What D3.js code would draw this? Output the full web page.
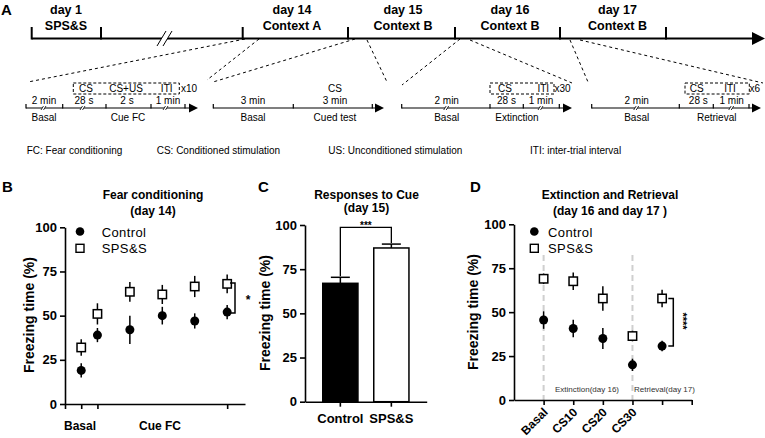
<!DOCTYPE html>
<html>
<head>
<meta charset="utf-8">
<script src="https://cdn.jsdelivr.net/npm/d3@7"></script>
<style>
  body { margin: 0; background: #fff; }
  svg { font-family: "Liberation Sans", Arial, sans-serif; display: block; }
  .axis path, .axis line { stroke: #000; stroke-width: 1.6; }
  .axis text { font-size: 13px; font-weight: bold; fill: #000; }
</style>
</head>
<body>
<svg width="765" height="438"></svg>
<script>
// ---- data ----
// A: protocol schematic
var dayTop = ["day 1", "day 14", "day 15", "day 16", "day 17"];
var dayBottom = ["SPS&S", "Context A", "Context B", "Context B", "Context B"];
var notes = ["FC: Fear conditioning", "CS: Conditioned stimulation", "US: Unconditioned stimulation", "ITI: inter-trial interval"];

// B: fear conditioning (day 14)
var fcX = [1, 2, 4, 6, 8, 10];
var fcTicks = [0, 1, 2, 10];
var fcControl = [19, 39, 42, 50, 47, 52];
var fcControlErr = [4, 4, 8, 5, 4.3, 4];
var fcSps = [32, 51, 63.5, 62, 66.5, 68];
var fcSpsErr = [4.7, 6, 5.6, 5.4, 6, 5.3];

// C: responses to cue (day 15)
var cueGroups = ["Control", "SPS&S"];
var cueMeans = [67, 87];
var cueErr = [3.4, 2.2];

// D: extinction and retrieval
var extX = [1, 2, 3, 4, 5];
var extLabels = ["Basal", "CS10", "CS20", "CS30"];
var extControl = [45.5, 40.7, 35, 20, 30.7];
var extControlErr = [5, 5, 6, 3.5, 3];
var extSps = [69, 67.6, 57.8, 36.4, 57.8];
var extSpsErr = [3, 5, 7, 3, 5];

var yTicks = [0, 25, 50, 75, 100];

var svg = d3.select("svg");

function txt(x, y, s, size, weight, anchor) {
  return svg.append("text").attr("x", x).attr("y", y).text(s)
    .attr("font-size", size).attr("font-weight", weight || "normal")
    .attr("text-anchor", anchor || "start").attr("fill", "#000");
}
function line(x1, y1, x2, y2, w, dash) {
  var l = svg.append("line").attr("x1", x1).attr("y1", y1).attr("x2", x2).attr("y2", y2)
    .attr("stroke", "#000").attr("stroke-width", w || 1);
  if (dash) l.attr("stroke-dasharray", dash);
  return l;
}
function arrow(x, y, len, half) {
  svg.append("path").attr("d", "M" + (x - len) + "," + (y - half) + "L" + x + "," + y + "L" + (x - len) + "," + (y + half) + "Z").attr("fill", "#000");
}

// ---- panel A ----
txt(1, 15, "A", 15, "bold");
var mainY = 38.5;
var mainTicks = [31.7, 101, 242.7, 348, 455, 560, 666];
var dayX = [66, 292, 403, 510, 617.5];
line(31.7, mainY, 753, mainY, 2);
arrow(765, mainY, 13, 6.5);
mainTicks.forEach(function (t) { line(t, mainY + 1, t, 27, 2); });
dayTop.forEach(function (d, i) {
  txt(dayX[i], 14, d, 12.5, "bold", "middle");
  txt(dayX[i], 30, dayBottom[i], 12.5, "bold", "middle");
});
// break mark
svg.append("path").attr("d", "M157,46 L166,31 L172,31 L163,46 Z").attr("fill", "#fff");
line(157, 46, 166, 31, 1);
line(163, 46, 172, 31, 1);

// connectors
[[245, 39, 28, 82], [259, 39, 207, 80], [355, 39, 213, 82], [367, 40, 387, 82],
 [460, 39, 402, 85], [470, 40, 572, 83], [570, 40, 588, 82], [580, 40, 763, 83]]
  .forEach(function (c) { line(c[0], c[1], c[2], c[3], 1, "3,3"); });

var subY = 108;
var subs = [
  { x0: 26, end: 198, ticks: [26, 62.7, 106, 151, 185],
    top: [["2 min", 44], ["28 s", 84], ["2 s", 127], ["1 min", 168]],
    bottom: [["Basal", 44], ["Cue FC", 128]], breaks: [44, 83, 166],
    box: [73.3, 179.3], boxText: [["CS", 86], ["CS+US", 126], ["ITI", 166.7]], rep: ["x10", 181] },
  { x0: 213.3, end: 384, ticks: [213.3, 293.3, 372.3],
    top: [["3 min", 253], ["3 min", 335]], extra: [["CS", 335]],
    bottom: [["Basal", 253], ["Cued test", 335]], breaks: [] },
  { x0: 401.7, end: 572, ticks: [401.7, 490, 523.3, 559.3],
    top: [["2 min", 446.7], ["28 s", 506.5], ["1 min", 541]],
    bottom: [["Basal", 446.7], ["Extinction", 517]], breaks: [446.7, 541],
    box: [490, 554], boxText: [["CS", 505], ["ITI", 543.3]], rep: ["x30", 554.5] },
  { x0: 591.7, end: 761, ticks: [591.7, 679.3, 713.3, 749],
    top: [["2 min", 636.7], ["28 s", 698.3], ["1 min", 731.7]],
    bottom: [["Basal", 636.7], ["Retrieval", 716.7]], breaks: [636.7, 731.7],
    box: [685, 749.3], boxText: [["CS", 696.7], ["ITI", 730]], rep: ["x6", 749.5] }
];
subs.forEach(function (s) {
  line(s.x0, subY, s.end - 6, subY, 1.2);
  arrow(s.end, subY, 9, 4.5);
  s.ticks.forEach(function (t) { line(t, subY + 0.5, t, subY - 4, 1.2); });
  s.breaks.forEach(function (b) {
    svg.append("path").attr("d", "M" + (b - 3) + "," + (subY + 2) + "L" + (b - 0.5) + "," + (subY - 2) + "L" + (b + 2) + "," + (subY - 2) + "L" + (b - 0.5) + "," + (subY + 2) + "Z").attr("fill", "#fff");
    line(b - 3, subY + 2, b - 0.5, subY - 2, 0.8);
    line(b - 0.5, subY + 2, b + 2, subY - 2, 0.8);
  });
  s.top.forEach(function (t) { txt(t[1], 104, t[0], 10, "normal", "middle"); });
  s.bottom.forEach(function (t) { txt(t[1], 121, t[0], 10, "normal", "middle"); });
  if (s.extra) s.extra.forEach(function (t) { txt(t[1], 92, t[0], 10, "normal", "middle"); });
  if (s.box) {
    svg.append("rect").attr("x", s.box[0]).attr("y", 83).attr("width", s.box[1] - s.box[0]).attr("height", 11)
      .attr("fill", "none").attr("stroke", "#000").attr("stroke-width", 1).attr("stroke-dasharray", "3,2");
    s.boxText.forEach(function (t) { txt(t[1], 92, t[0], 10, "normal", "middle"); });
    txt(s.rep[1], 92, s.rep[0], 10, "normal", "start");
  }
});
var noteX = [26.7, 156.7, 328.3, 530];
notes.forEach(function (n, i) { txt(noteX[i], 154, n, 10, "normal"); });

// ---- shared helpers for plots ----
function yLabel(x, y) {
  svg.append("text").attr("transform", "translate(" + x + "," + y + ") rotate(-90)")
    .attr("text-anchor", "middle").attr("font-size", 14).attr("font-weight", "bold")
    .text("Freezing time (%)");
}
function title(x, a, b, y2) {
  txt(x, 199, a, 12, "bold", "middle");
  txt(x, y2 || 215, b, 12, "bold", "middle");
}
function legend(cx, tx) {
  svg.append("circle").attr("cx", cx).attr("cy", 231.5).attr("r", 4.3).attr("fill", "#000");
  txt(tx, 236.5, "Control", 13, "normal").attr("letter-spacing", 0.4);
  svg.append("rect").attr("x", cx - 4).attr("y", 244.3).attr("width", 8).attr("height", 8)
    .attr("fill", "#fff").attr("stroke", "#000").attr("stroke-width", 1.4);
  txt(tx, 253, "SPS&S", 13, "normal").attr("letter-spacing", 0.4);
}
function points(x, y, xs, ctl, ctlErr, sps, spsErr) {
  var g = svg.append("g");
  xs.forEach(function (v, i) {
    g.append("line").attr("x1", x(v)).attr("x2", x(v)).attr("y1", y(sps[i] - spsErr[i])).attr("y2", y(sps[i] + spsErr[i]))
      .attr("stroke", "#000").attr("stroke-width", 1.5);
    g.append("line").attr("x1", x(v)).attr("x2", x(v)).attr("y1", y(ctl[i] - ctlErr[i])).attr("y2", y(ctl[i] + ctlErr[i]))
      .attr("stroke", "#000").attr("stroke-width", 1.5);
  });
  g.selectAll(".c").data(xs).enter().append("circle")
    .attr("cx", function (d) { return x(d); })
    .attr("cy", function (d, i) { return y(ctl[i]); })
    .attr("r", 4.5).attr("fill", "#000");
  g.selectAll(".s").data(xs).enter().append("rect")
    .attr("x", function (d) { return x(d) - 4.2; })
    .attr("y", function (d, i) { return y(sps[i]) - 4.2; })
    .attr("width", 8.4).attr("height", 8.4)
    .attr("fill", "#fff").attr("stroke", "#000").attr("stroke-width", 1.5);
}

// ---- panel B ----
txt(2, 192, "B", 15, "bold");
title(153, "Fear conditioning", "(day 14)");
var xB = d3.scaleLinear().domain([0, 11.1]).range([65, 245]);
var yB = d3.scaleLinear().domain([0, 100]).range([404, 227.3]);
svg.append("g").attr("class", "axis").attr("transform", "translate(65,0)")
  .call(d3.axisLeft(yB).tickValues(yTicks).tickSize(5).tickSizeOuter(0).tickPadding(3));
svg.append("g").attr("class", "axis").attr("transform", "translate(0,404)")
  .call(d3.axisBottom(xB).tickValues(fcTicks).tickSize(5).tickSizeOuter(0).tickFormat(""));
txt(80, 430, "Basal", 12, "bold", "middle");
txt(160, 430, "Cue FC", 12, "bold", "middle");
yLabel(34, 315);
legend(80, 101.7);
points(xB, yB, fcX, fcControl, fcControlErr, fcSps, fcSpsErr);
// significance bracket
var bx = 235;
svg.append("path").attr("d", "M230," + yB(fcSps[5] + 0.5) + "H" + bx + "V" + yB(fcControl[5] - 0.5) + "H230")
  .attr("fill", "none").attr("stroke", "#000").attr("stroke-width", 1.5);
txt(248, 304, "*", 12, "bold", "middle");

// ---- panel C ----
txt(258, 192, "C", 15, "bold");
title(366.5, "Responses to Cue", "(day 15)", 211.5);
var xC = d3.scaleBand().domain(cueGroups).range([305, 426.7]).paddingInner(0.31).paddingOuter(0.348);
var yC = d3.scaleLinear().domain([0, 100]).range([401.7, 225]);
cueGroups.forEach(function (g, i) {
  var cx = xC(g) + xC.bandwidth() / 2;
  svg.append("line").attr("x1", cx).attr("x2", cx).attr("y1", yC(cueMeans[i])).attr("y2", yC(cueMeans[i] + cueErr[i]))
    .attr("stroke", "#000").attr("stroke-width", 1.5);
  svg.append("line").attr("x1", cx - 9.5).attr("x2", cx + 9.5).attr("y1", yC(cueMeans[i] + cueErr[i])).attr("y2", yC(cueMeans[i] + cueErr[i]))
    .attr("stroke", "#000").attr("stroke-width", 1.5);
});
svg.selectAll(".bar").data(cueMeans).enter().append("rect")
  .attr("x", function (d, i) { return xC(cueGroups[i]); })
  .attr("y", function (d) { return yC(d); })
  .attr("width", xC.bandwidth())
  .attr("height", function (d) { return yC(0) - yC(d); })
  .attr("fill", function (d, i) { return i === 0 ? "#000" : "#fff"; })
  .attr("stroke", "#000").attr("stroke-width", 1.5);
svg.append("g").attr("class", "axis").attr("transform", "translate(305,0)")
  .call(d3.axisLeft(yC).tickValues(yTicks).tickSize(5).tickSizeOuter(0).tickPadding(3));
svg.append("g").attr("class", "axis cat").attr("transform", "translate(0,401.7)")
  .call(d3.axisBottom(xC).tickSize(5).tickSizeOuter(0).tickPadding(7));
svg.selectAll(".cat text").attr("font-size", 12);
var c0 = xC(cueGroups[0]) + xC.bandwidth() / 2, c1 = xC(cueGroups[1]) + xC.bandwidth() / 2;
svg.append("path").attr("d", "M" + c0 + "," + (yC(cueMeans[0] + cueErr[0]) - 1) + "V" + yC(98.6) + "H" + c1 + "V" + (yC(cueMeans[1] + cueErr[1]) - 1))
  .attr("fill", "none").attr("stroke", "#000").attr("stroke-width", 1.3);
txt((c0 + c1) / 2, 228.5, "***", 10, "bold", "middle");
yLabel(270, 313);

// ---- panel D ----
txt(470, 192, "D", 15, "bold");
title(610, "Extinction and Retrieval", "(day 16 and day 17 )");
var xD = d3.scaleLinear().domain([0, 6]).range([514, 691.7]);
var yD = d3.scaleLinear().domain([0, 100]).range([400, 224.3]);
[1, 4].forEach(function (v) {
  line(xD(v), 255, xD(v), 400, 2, "6,4").attr("stroke", "#cfcfcf");
});
svg.append("g").attr("class", "axis").attr("transform", "translate(514,0)")
  .call(d3.axisLeft(yD).tickValues(yTicks).tickSize(5).tickSizeOuter(0).tickPadding(3));
svg.append("g").attr("class", "axis").attr("transform", "translate(0,400)")
  .call(d3.axisBottom(xD).tickValues([1, 2, 3, 4, 5, 6]).tickSize(5).tickSizeOuter(0).tickFormat(""));
extLabels.forEach(function (l, i) {
  svg.append("text").attr("transform", "translate(" + (xD(i + 1) + 5) + ",413) rotate(-45)")
    .attr("text-anchor", "end").attr("font-size", 12).attr("font-weight", "bold").text(l);
});
txt(555, 392, "Extinction(day 16)", 8, "normal").attr("fill", "#333");
txt(634, 392, "Retrieval(day 17)", 8, "normal").attr("fill", "#333");
yLabel(478, 312);
legend(534.3, 548);
points(xD, yD, extX, extControl, extControlErr, extSps, extSpsErr);
svg.append("path").attr("d", "M668.3," + yD(extSps[4]) + "H673.3V" + yD(extControl[4]) + "H668.3")
  .attr("fill", "none").attr("stroke", "#000").attr("stroke-width", 1.5);
svg.append("text").attr("transform", "translate(679,321) rotate(90)")
  .attr("text-anchor", "middle").attr("font-size", 11).attr("font-weight", "bold").text("****");
</script>
</body>
</html>
